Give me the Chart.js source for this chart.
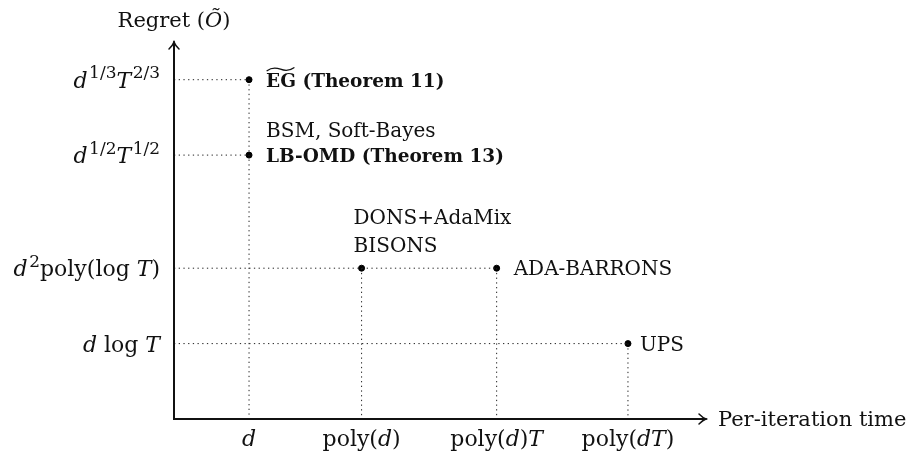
<!DOCTYPE html>
<html>
<head>
<meta charset="utf-8">
<script src="https://cdn.jsdelivr.net/npm/chart.js@4/dist/chart.umd.min.js"></script>
<style>
  body { margin: 0; background: #fff; }
  #wrap { width: 918px; height: 452px; }
</style>
</head>
<body>
<div id="wrap"><canvas id="regretChart" width="918" height="452"></canvas></div>
<script>
// tick labels use a tiny markup: *italic*, ^{superscript}, ~{wide tilde}, leading # = bold
const regretLevels = ['*d* log *T*', '*d*^{2}poly(log *T*)', '*d*^{1/2}*T*^{1/2}', '*d*^{1/3}*T*^{2/3}'];
const regretValues = [1, 2, 3.5, 4.5];
const timeLevels = ['*d*', 'poly(*d*)', 'poly(*d*)*T*', 'poly(*dT*)'];
const timeValues = [1, 2.5, 4.3, 6.05];

const algoTime = [1, 1, 2.5, 4.3, 6.05];
const algoRegret = [4.5, 3.5, 2, 2, 1];
const algoLabels = [
    ['#~{EG} (Theorem 11)'],
    ['BSM, Soft-Bayes', '#LB-OMD (Theorem 13)'],
    ['DONS+AdaMix', 'BISONS'],
    ['ADA-BARRONS'],
    ['UPS']
];

const FONT = "'DejaVu Serif', serif";
const fontOf = (size, italic, bold) => `${italic ? 'italic ' : ''}${bold ? 'bold ' : ''}${size}px ${FONT}`;

function parseRich(s) {
    const runs = [];
    let italic = false, buf = '', i = 0;
    const flush = () => { if (buf) runs.push({ text: buf, italic }); buf = ''; };
    while (i < s.length) {
        const c = s[i];
        if (c === '*') { flush(); italic = !italic; i++; }
        else if ((c === '^' || c === '~') && s[i + 1] === '{') {
            flush();
            const j = s.indexOf('}', i);
            runs.push({ text: s.slice(i + 2, j), italic: false, sup: c === '^', tilde: c === '~' });
            i = j + 1;
        } else { buf += c; i++; }
    }
    flush();
    return runs;
}

function drawRich(ctx, str, x, y, size, align) {
    let bold = false;
    if (str[0] === '#') { bold = true; str = str.slice(1); size = size - 1.5; }
    const runs = parseRich(str);
    let w = 0;
    runs.forEach((r, k) => {
        r.size = r.sup ? Math.round(size * 0.76) : size;
        r.font = fontOf(r.size, r.italic, bold);
        ctx.font = r.font;
        if (r.sup && k > 0 && runs[k - 1].italic) w += 1.5;
        r.x = w;
        r.w = ctx.measureText(r.text).width;
        w += r.w;
    });
    const x0 = align === 'right' ? x - w : align === 'center' ? x - w / 2 : x;
    ctx.textAlign = 'left';
    ctx.textBaseline = 'alphabetic';
    ctx.fillStyle = '#111';
    runs.forEach(r => {
        ctx.font = r.font;
        ctx.fillText(r.text, x0 + r.x, r.sup ? y - size * 0.42 : y);
        if (r.tilde) {
            const tx = x0 + r.x + 1, tw = r.w - 3, ty = y - size * 0.73 - 4;
            ctx.beginPath();
            ctx.lineWidth = 1.3;
            ctx.strokeStyle = '#111';
            ctx.moveTo(tx, ty + 1.5);
            ctx.bezierCurveTo(tx + tw * 0.2, ty - 2.5, tx + tw * 0.35, ty - 1.5, tx + tw / 2, ty);
            ctx.bezierCurveTo(tx + tw * 0.65, ty + 1.5, tx + tw * 0.8, ty + 2.5, tx + tw, ty - 1.5);
            ctx.stroke();
        }
    });
}

// dotted guides: one horizontal per regret level, one vertical per time level
const guides = [];
regretValues.forEach(r => {
    const xs = algoTime.filter((t, i) => algoRegret[i] === r);
    if (xs.length) guides.push([{ x: 0, y: r }, { x: Math.max(...xs), y: r }]);
});
timeValues.forEach(t => {
    const ys = algoRegret.filter((r, i) => algoTime[i] === t);
    if (ys.length) guides.push([{ x: t, y: Math.max(...ys) }, { x: t, y: 0 }]);
});

const axesAndText = {
    id: 'axesAndText',
    afterDraw(chart) {
        const { ctx, scales: { x, y } } = chart;
        const ox = x.getPixelForValue(0), oy = y.getPixelForValue(0);
        const xEnd = x.getPixelForValue(x.max), yEnd = y.getPixelForValue(y.max);
        ctx.save();
        ctx.strokeStyle = '#111';
        ctx.lineWidth = 2;
        ctx.lineCap = 'round';
        ctx.beginPath();
        ctx.moveTo(ox, yEnd); ctx.lineTo(ox, oy); ctx.lineTo(xEnd, oy);
        ctx.stroke();
        ctx.lineWidth = 1.5;
        ctx.beginPath();
        ctx.moveTo(ox - 5, yEnd + 7); ctx.quadraticCurveTo(ox - 1, yEnd + 3, ox, yEnd);
        ctx.quadraticCurveTo(ox + 1, yEnd + 3, ox + 5, yEnd + 7);
        ctx.moveTo(xEnd - 7, oy - 5); ctx.quadraticCurveTo(xEnd - 3, oy - 1, xEnd, oy);
        ctx.quadraticCurveTo(xEnd - 3, oy + 1, xEnd - 7, oy + 5);
        ctx.stroke();

        drawRich(ctx, 'Regret (*Õ*)', ox, 27, 21, 'center');
        drawRich(ctx, 'Per-iteration time', xEnd + 12, oy + 7, 21, 'left');

        regretLevels.forEach((lbl, i) => drawRich(ctx, lbl, ox - 14, y.getPixelForValue(regretValues[i]) + 8, 22, 'right'));
        timeLevels.forEach((lbl, i) => drawRich(ctx, lbl, x.getPixelForValue(timeValues[i]), oy + 27, 22, 'center'));

        const pts = chart.getDatasetMeta(chart.data.datasets.length - 1).data;
        algoLabels.forEach((lines, i) => {
            const p = pts[i];
            const above = i === 2;
            lines.forEach((line, k) => {
                const back = lines.length - 1 - k;
                if (above) drawRich(ctx, line, p.x - 8, p.y - 23 - back * 28 + 7, 20, 'left');
                else drawRich(ctx, line, p.x + (i === 4 ? 12 : 17), p.y - back * 25 + 7, 20, 'left');
            });
        });
        ctx.restore();
    }
};

new Chart(document.getElementById('regretChart'), {
    type: 'scatter',
    data: {
        datasets: [
            ...guides.map(g => ({
                type: 'line',
                data: g,
                borderColor: '#222',
                borderWidth: 1,
                borderDash: [1.3, 3.4],
                pointRadius: 0,
                clip: false
            })),
            {
                data: algoTime.map((t, i) => ({ x: t, y: algoRegret[i] })),
                backgroundColor: '#000',
                borderColor: '#000',
                pointRadius: 3,
                clip: false
            }
        ]
    },
    options: {
        responsive: false,
        animation: false,
        events: [],
        layout: { padding: { left: 174, right: 212, top: 42, bottom: 33 } },
        plugins: { legend: { display: false }, tooltip: { enabled: false } },
        scales: {
            x: { type: 'linear', min: 0, max: 7.09, display: false },
            y: { type: 'linear', min: 0, max: 5, display: false }
        }
    },
    plugins: [axesAndText]
});
</script>
</body>
</html>
